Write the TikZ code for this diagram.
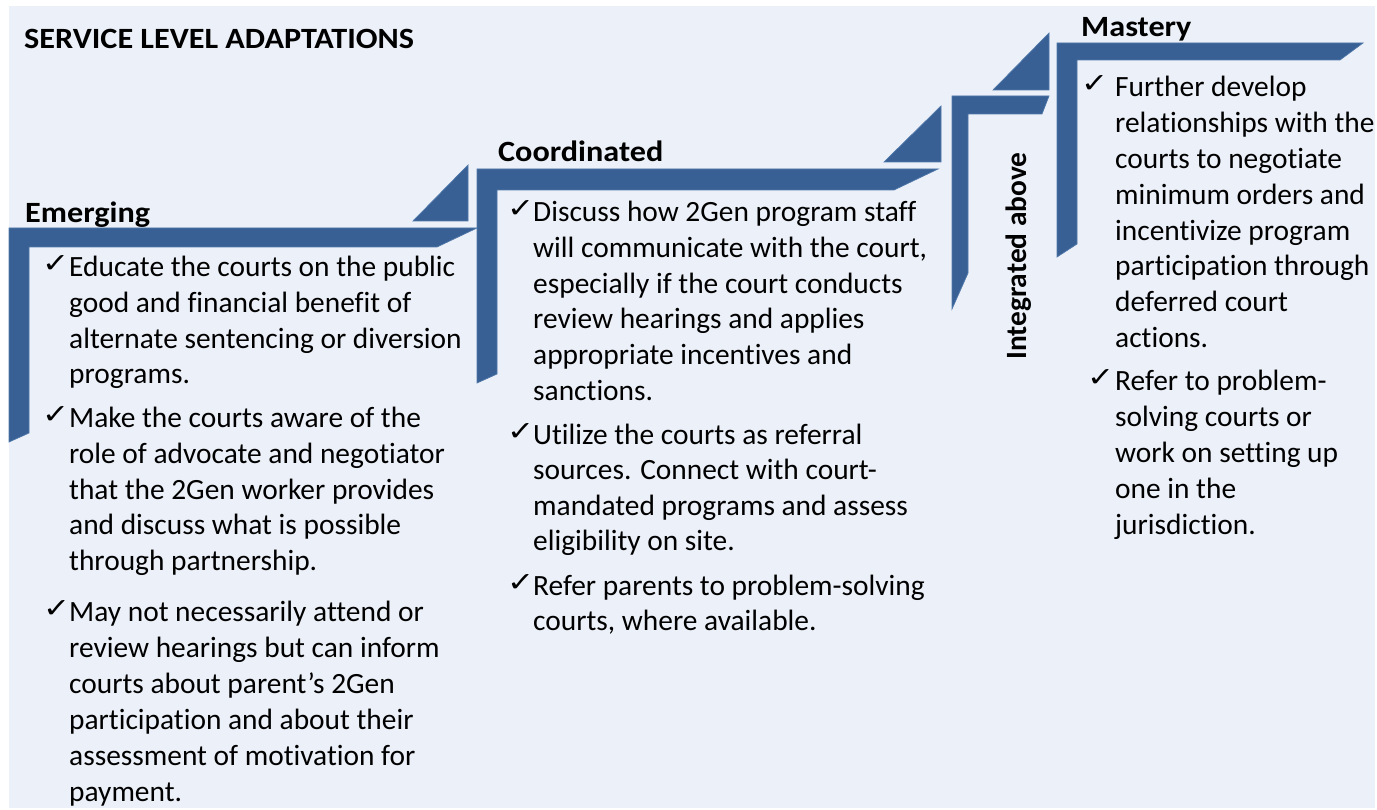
\documentclass[tikz,border=0pt]{standalone}
\usepackage{fontspec}
\setmainfont{Carlito}[Ligatures={NoCommon}]
\newfontfamily\headfont{Carlito}[Ligatures={NoCommon}, FakeStretch=1.095]
\newfontfamily\chkfont{DejaVu Sans}
\definecolor{stepblue}{HTML}{386094}
\definecolor{stepedge}{HTML}{4F78AA}
\definecolor{bgpanel}{HTML}{ECF0F8}
\newcommand\bodyfont{\fontsize{29.4}{34}\selectfont}
\newcommand\ck{\scalebox{1.2}[1]{✓}}
\tikzset{
  stepshape/.style={fill=stepblue, draw=stepedge, line width=0.7pt, line join=miter},
  txt/.style={anchor=base west, inner sep=0pt, font=\bodyfont},
  head/.style={anchor=base west, inner sep=0pt, font=\headfont\bfseries\fontsize{29.4}{34}\selectfont},
  tick/.style={anchor=base west, inner sep=0pt, font=\chkfont\fontsize{27}{30}\selectfont},
}
\begin{document}
\begin{tikzpicture}[x=1pt,y=-1pt]
\useasboundingbox (0,0) rectangle (1377,810);
\fill[white] (0,0) rectangle (1377,810);
\fill[bgpanel] (9,6) rectangle (1375,808);

% steps
\draw[stepshape] (9,228) -- (477,228) -- (437,247) -- (29,247) -- (29,433) -- (9,442) -- cycle;
\draw[stepshape] (413,221) -- (468,221) -- (468,165) -- cycle;
\draw[stepshape] (477,169) -- (938,169) -- (894,190) -- (497,190) -- (497,374) -- (477,383) -- cycle;
\draw[stepshape] (884,162) -- (941,162) -- (941,106) -- cycle;
\draw[stepshape] (952,96) -- (1049,96) -- (1042,114) -- (968,114) -- (968,273) -- (952,309) -- cycle;
\draw[stepshape] (993,90) -- (1049,90) -- (1049,33) -- cycle;
\draw[stepshape] (1057,43) -- (1363,43) -- (1340,60) -- (1077,60) -- (1077,244) -- (1057,257) -- cycle;

% headings
\node[head] (title) at (24,49) {SERVICE LEVEL ADAPTATIONS};
\node[head] (hem) at (25,223) {Emerging};
\node[head] (hco) at (498,162) {Coordinated};
\node[head] (hma) at (1081,37) {Mastery};
\node[head, rotate=90, font=\bfseries\fontsize{29.4}{34}\selectfont] (hin) at (1026,360) {Integrated above};

% Emerging
\node[tick] (ce1) at (42,273) {\ck};
\foreach \t [count=\i from 0] in {{Educate the courts on the public},{good and financial benefit of},{alternate sentencing or diversion},{programs.}}
  \node[txt] (ea\i) at (69,277+35.6*\i) {\t};
\node[tick] (ce2) at (42,424) {\ck};
\foreach \t [count=\i from 0] in {{Make the courts aware of the},{role of advocate and negotiator},{that the 2Gen worker provides},{and discuss what is possible},{through partnership.}}
  \node[txt] (eb\i) at (69,428+35.6*\i) {\t};
\node[tick] (ce3) at (43,617) {\ck};
\foreach \t [count=\i from 0] in {{May not necessarily attend or},{review hearings but can inform},{courts about parent’s 2Gen},{participation and about their},{assessment of motivation for},{payment.}}
  \node[txt] (ec\i) at (69,621+36*\i) {\t};

% Coordinated
\node[tick] (cc1) at (507,218) {\ck};
\foreach \t [count=\i from 0] in {{Discuss how 2Gen program staff},{will communicate with the court,},{especially if the court conducts},{review hearings and applies},{appropriate incentives and},{sanctions.}}
  \node[txt] (ca\i) at (533,222+35.6*\i) {\t};
\node[tick] (cc2) at (507,440) {\ck};
\foreach \t [count=\i from 0] in {{Utilize the courts as referral},{sources. Connect with court-},{mandated programs and assess},{eligibility on site.}}
  \node[txt] (cb\i) at (533,444+35.6*\i) {\t};
\node[tick] (cc3) at (507,591) {\ck};
\foreach \t [count=\i from 0] in {{Refer parents to problem-solving},{courts, where available.}}
  \node[txt] (cx\i) at (533,595+35.6*\i) {\t};

% Mastery
\node[tick] (cm1) at (1081,93) {\ck};
\foreach \t [count=\i from 0] in {{Further develop},{relationships with the},{courts to negotiate},{minimum orders and},{incentivize program},{participation through},{deferred court},{actions.}}
  \node[txt] (ma\i) at (1115,97+35.8*\i) {\t};
\node[tick] (cm2) at (1087,387) {\ck};
\foreach \t [count=\i from 0] in {{Refer to problem-},{solving courts or},{work on setting up},{one in the},{jurisdiction.}}
  \node[txt] (mb\i) at (1115,391+35.8*\i) {\t};
\end{tikzpicture}
\end{document}
